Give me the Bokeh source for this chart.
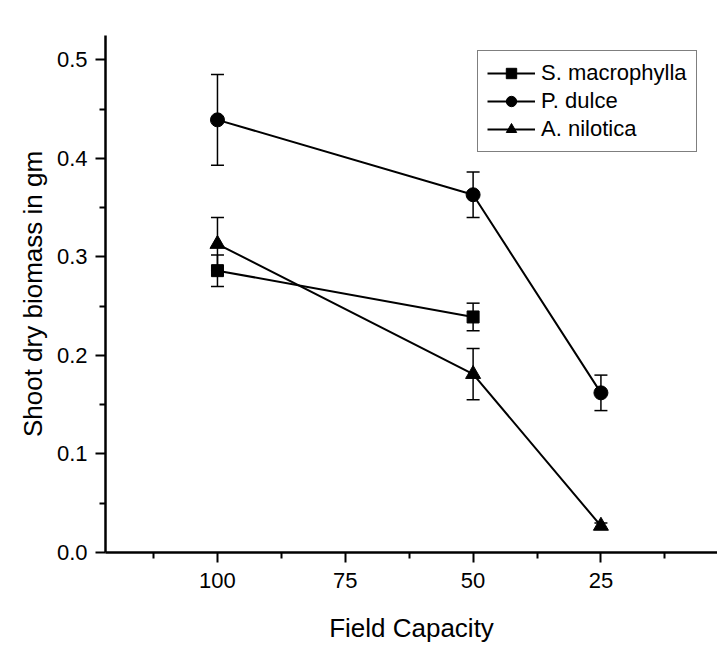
from bokeh.plotting import figure
from bokeh.models import (ColumnDataSource, Whisker, TeeHead, Range1d, FixedTicker,
                          PrintfTickFormatter, Legend, LegendItem)
from bokeh.embed import file_html
from bokeh.resources import INLINE

# ---- data ----
field_capacity = [100, 50, 25]
tick_values = [100, 75, 50, 25, 0]
y_ticks = [0.0, 0.1, 0.2, 0.3, 0.4, 0.5]

s_macro_x = [100, 50]
s_macro_y = [0.286, 0.239]
s_macro_err = [0.016, 0.014]

p_dulce_x = [100, 50, 25]
p_dulce_y = [0.439, 0.363, 0.162]
p_dulce_err = [0.046, 0.023, 0.018]

a_nilo_x = [100, 50, 25]
a_nilo_y = [0.313, 0.181, 0.027]
a_nilo_err = [0.027, 0.026, 0.003]

series = [
    ("S. macrophylla", s_macro_x, s_macro_y, s_macro_err, "square", 12),
    ("P. dulce", p_dulce_x, p_dulce_y, p_dulce_err, "circle", 14),
    ("A. nilotica", a_nilo_x, a_nilo_y, a_nilo_err, "triangle", 15),
]

FONT = "Liberation Sans"

p = figure(width=717, height=647, output_backend="svg", toolbar_location=None,
           x_range=Range1d(121.9, 2.2), y_range=Range1d(0, 0.5246),
           min_border_left=105, min_border_right=0, min_border_top=35,
           min_border_bottom=95)
p.outline_line_color = None
p.grid.visible = False
p.background_fill_color = "white"
p.border_fill_color = "white"

items = []
for name, xs, ys, errs, marker, size in series:
    src = ColumnDataSource(dict(
        x=xs, y=ys,
        upper=[a + b for a, b in zip(ys, errs)],
        lower=[a - b for a, b in zip(ys, errs)],
    ))
    w = Whisker(base="x", upper="upper", lower="lower", source=src,
                line_color="black", line_width=1.5,
                upper_head=TeeHead(size=13, line_color="black", line_width=1.5),
                lower_head=TeeHead(size=13, line_color="black", line_width=1.5))
    p.add_layout(w)
    ln = p.line("x", "y", source=src, line_color="black", line_width=2)
    sc = p.scatter("x", "y", source=src, marker=marker, size=size,
                   fill_color="black", line_color="black")
    items.append(LegendItem(label=name, renderers=[ln, sc]))

legend = Legend(items=items, location=(372, 400))
legend.label_text_font = FONT
legend.label_text_font_size = "22px"
legend.label_text_color = "black"
legend.glyph_width = 48
legend.glyph_height = 26
legend.label_height = 26
legend.spacing = 2
legend.padding = 9
legend.label_standoff = 6
legend.border_line_color = "black"
legend.border_line_width = 1.5
legend.background_fill_color = "white"
legend.background_fill_alpha = 1.0
p.add_layout(legend, "center")

# axes
xa = p.xaxis[0]
xa.ticker = FixedTicker(ticks=tick_values, minor_ticks=[112.5, 87.5, 62.5, 37.5, 12.5])
xa.axis_label = "Field Capacity"
ya = p.yaxis[0]
ya.ticker = FixedTicker(ticks=y_ticks, minor_ticks=[0.05, 0.15, 0.25, 0.35, 0.45])
ya.formatter = PrintfTickFormatter(format="%.1f")
ya.axis_label = "Shoot dry biomass in gm"

for ax in (xa, ya):
    ax.axis_line_color = "black"
    ax.axis_line_width = 2.5
    ax.major_tick_line_color = "black"
    ax.major_tick_line_width = 2
    ax.minor_tick_line_color = "black"
    ax.minor_tick_line_width = 2
    ax.major_tick_in = 0
    ax.major_tick_out = 10
    ax.minor_tick_in = 0
    ax.minor_tick_out = 6
    ax.major_label_text_font = FONT
    ax.major_label_text_font_size = "22px"
    ax.major_label_text_color = "black"
    ax.axis_label_text_font = FONT
    ax.axis_label_text_font_size = "26px"
    ax.axis_label_text_font_style = "normal"
    ax.axis_label_text_color = "black"

xa.major_label_standoff = 10
xa.axis_label_standoff = 22
ya.major_label_standoff = 8
ya.axis_label_standoff = 6

open("out.html", "w").write(file_html(p, INLINE))
